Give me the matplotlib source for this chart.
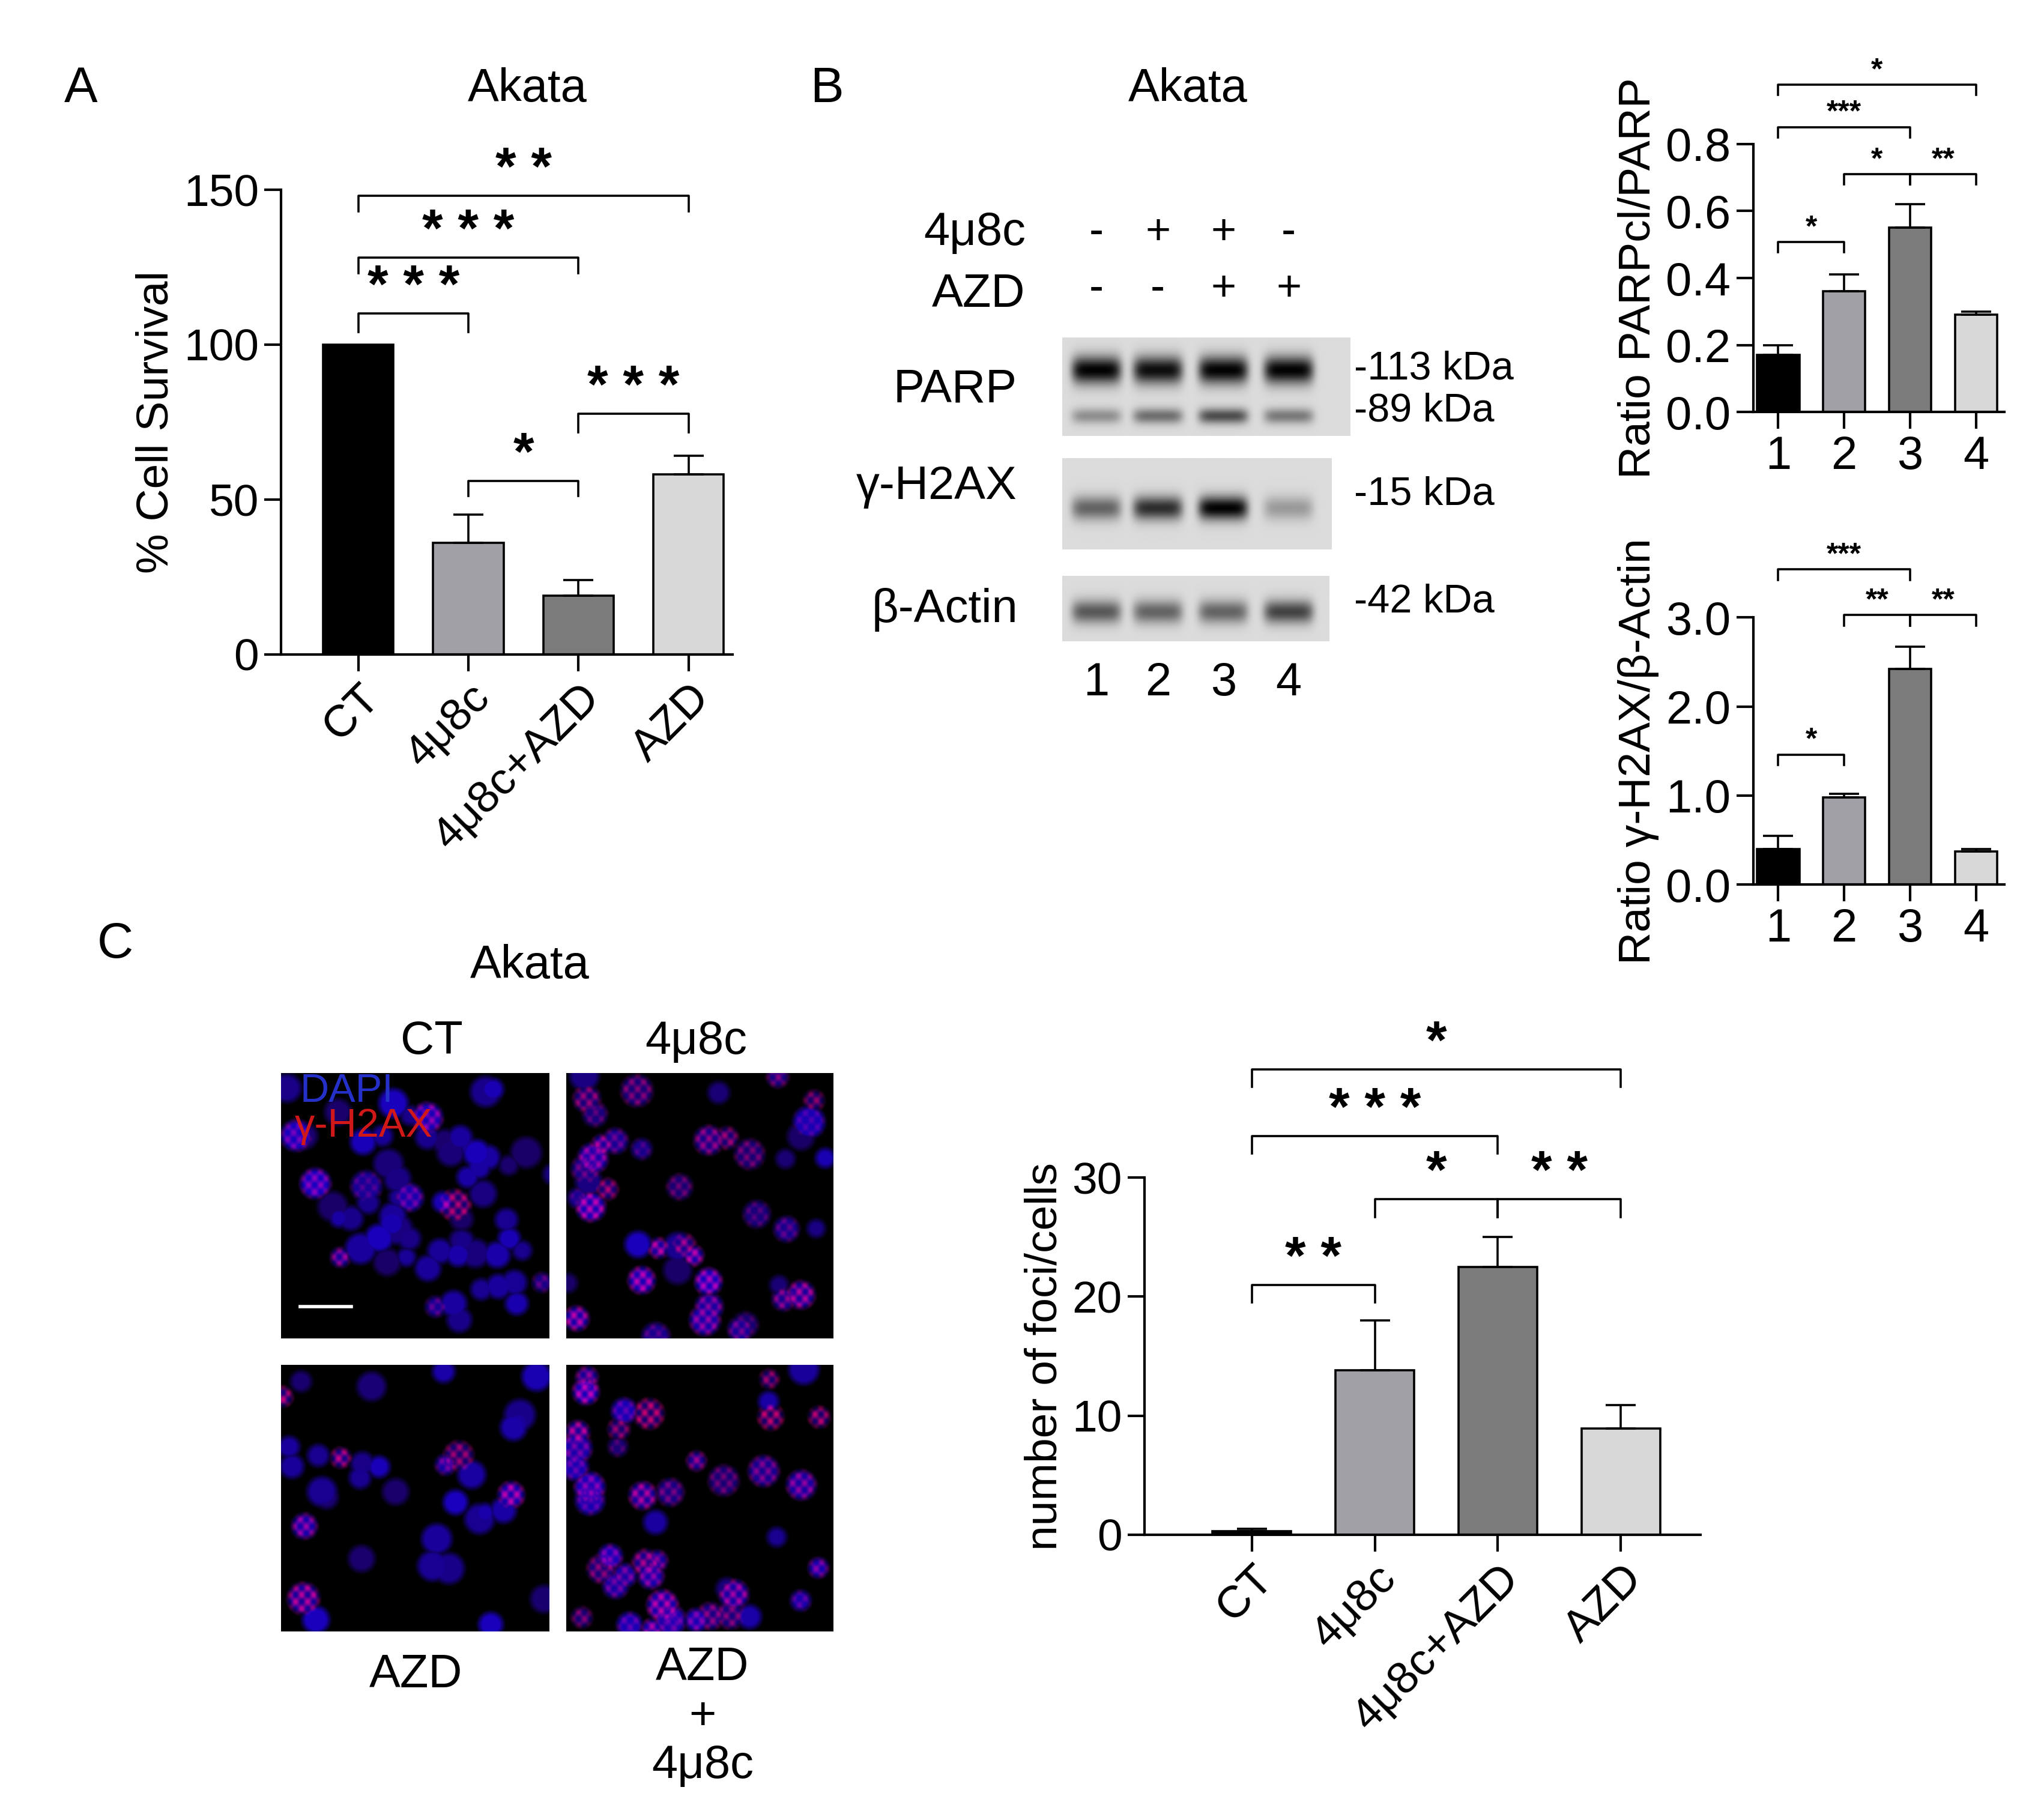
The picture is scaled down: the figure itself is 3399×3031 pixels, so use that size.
import numpy as np
import matplotlib
matplotlib.use("Agg")
import matplotlib.pyplot as plt

plt.rcParams['font.family'] = ['Liberation Sans', 'DejaVu Sans']

W, H = 1560, 1391
COLORS = ["#000000", "#a0a0a6", "#7b7b7b", "#d8d8d8"]

# ---- data ----
groups = ["CT", "4\u03bc8c", "4\u03bc8c+AZD", "AZD"]
survival = [100, 36, 19, 58]
survival_err = [0, 9, 5, 6]

lanes = ["1", "2", "3", "4"]
parp_ratio = [0.17, 0.36, 0.55, 0.29]
parp_err = [0.03, 0.05, 0.07, 0.01]
h2ax_ratio = [0.40, 0.98, 2.42, 0.37]
h2ax_err = [0.15, 0.04, 0.25, 0.03]

foci = [0.3, 13.8, 22.5, 8.9]
foci_err = [0.2, 4.2, 2.5, 2.0]

# blot band intensities
parp_full = [1.0, 0.95, 1.0, 1.0]
parp_cl = [0.35, 0.5, 0.65, 0.45]
h2ax_band = [0.55, 0.8, 1.0, 0.3]
actin_band = [0.6, 0.55, 0.55, 0.7]

fig = plt.figure(figsize=(16.995, 15.155), dpi=200)


def ax_at(x0, y0, x1, y1):
    return fig.add_axes([x0 / W, 1 - y1 / H, (x1 - x0) / W, (y1 - y0) / H])


def ftext(x, y, s, **kw):
    kw.setdefault("ha", "center")
    kw.setdefault("va", "center")
    kw.setdefault("fontsize", 27)
    fig.text(x / W, 1 - y / H, s, **kw)


def bracket(ax, i, j, y, tick, label, fs):
    ax.plot([i, i, j, j], [y - tick, y, y, y - tick], color="black", lw=1.3, clip_on=False)
    ax.text((i + j) / 2, y, label, ha="center", va="bottom", fontsize=fs,
            fontweight="bold", clip_on=False)


def bar_axes(ax, vals, errs, xlim, ylim, ticks, tlabels, ticklabels, rot, fs):
    x = np.arange(len(vals))
    ax.bar(x, vals, width=0.64, color=COLORS, edgecolor="black", lw=1.3)
    for xi, v, e in zip(x, vals, errs):
        if e > 0:
            ax.errorbar(xi, v, yerr=[[0], [e]], color="black", capsize=9, lw=1.3, capthick=1.3)
    ax.set_xlim(*xlim)
    ax.set_ylim(*ylim)
    ax.set_yticks(ticks)
    ax.set_yticklabels(tlabels, fontsize=fs)
    ax.set_xticks(x)
    if rot:
        ax.set_xticklabels(ticklabels, fontsize=fs, rotation=45, ha="right", rotation_mode="anchor")
    else:
        ax.set_xticklabels(ticklabels, fontsize=fs)
    for s in ["top", "right"]:
        ax.spines[s].set_visible(False)
    ax.spines["left"].set_linewidth(1.5)
    ax.spines["bottom"].set_linewidth(1.5)
    ax.tick_params(width=1.5, length=10)


# ---- Panel A ----
axA = ax_at(215, 145, 560, 500)
bar_axes(axA, survival, survival_err, (-0.7, 3.4), (0, 150), [0, 50, 100, 150],
         ["0", "50", "100", "150"], groups, True, 27)
axA.set_ylabel("% Cell Survival", fontsize=27)
bracket(axA, 0, 1, 110, 6, "* * *", 32)
bracket(axA, 0, 2, 128, 5, "* * *", 32)
bracket(axA, 0, 3, 148, 5, "* *", 32)
bracket(axA, 1, 2, 56, 5, "*", 32)
bracket(axA, 2, 3, 77.6, 6, "* * *", 32)
ftext(62, 68, "A", fontsize=30)
ftext(403, 68, "Akata", fontsize=28)

# ---- Panel B blots ----
ftext(632, 68, "B", fontsize=30)
ftext(908, 68, "Akata", fontsize=28)
ftext(745, 178, "4\u03bc8c", fontsize=28)
ftext(748, 225, "AZD", fontsize=28)
lane_x = [838, 885, 935, 985]
for lx, a, b in zip(lane_x, ["-", "+", "+", "-"], ["-", "-", "+", "+"]):
    ftext(lx, 178, a, fontsize=26)
    ftext(lx, 221, b, fontsize=26)


def blot(x0, y0, x1, y1, bands):
    ax = ax_at(x0, y0, x1, y1)
    h, w = 120, 400
    img = np.full((h, w), 0.86)
    xs = np.linspace(x0, x1, w)
    yy = np.linspace(0, 1, h)[:, None]
    for yc, sig, ints in bands:
        for lx, it in zip(lane_x, ints):
            prof = np.exp(-((xs - lx) / 19.0) ** 6)[None, :]
            img -= 0.85 * it * prof * np.exp(-((yy - yc) / sig) ** 2)
    ax.imshow(np.clip(img, 0, 1), cmap="gray", vmin=0, vmax=1, aspect="auto")
    ax.set_xticks([])
    ax.set_yticks([])
    for s in ax.spines.values():
        s.set_visible(False)


blot(812, 258, 1032, 333, [(0.33, 0.14, parp_full), (0.8, 0.08, parp_cl)])
blot(812, 350, 1018, 420, [(0.55, 0.13, h2ax_band)])
blot(812, 440, 1016, 490, [(0.55, 0.18, actin_band)])
ftext(730, 298, "PARP", fontsize=28)
ftext(716, 372, "\u03b3-H2AX", fontsize=28)
ftext(722, 466, "\u03b2-Actin", fontsize=28)
ftext(1035, 282, "-113 kDa", fontsize=24, ha="left")
ftext(1035, 314, "-89 kDa", fontsize=24, ha="left")
ftext(1035, 378, "-15 kDa", fontsize=24, ha="left")
ftext(1035, 460, "-42 kDa", fontsize=24, ha="left")
for lx, l in zip(lane_x, lanes):
    ftext(lx, 522, l, fontsize=28)

# ---- Panel B bar charts ----
axB1 = ax_at(1340, 110, 1532, 315)
bar_axes(axB1, parp_ratio, parp_err, (-0.38, 3.43), (0, 0.8), [0, 0.2, 0.4, 0.6, 0.8],
         ["0.0", "0.2", "0.4", "0.6", "0.8"], lanes, False, 28)
axB1.set_ylabel("Ratio PARPcl/PARP", fontsize=27)
bracket(axB1, 0, 1, 0.507, 0.03, "*", 18)
bracket(axB1, 1, 2, 0.71, 0.03, "*", 18)
bracket(axB1, 2, 3, 0.71, 0.03, "**", 18)
bracket(axB1, 0, 2, 0.85, 0.03, "***", 18)
bracket(axB1, 0, 3, 0.976, 0.03, "*", 18)

axB2 = ax_at(1340, 472, 1532, 676)
bar_axes(axB2, h2ax_ratio, h2ax_err, (-0.38, 3.43), (0, 3.0), [0, 1, 2, 3],
         ["0.0", "1.0", "2.0", "3.0"], lanes, False, 28)
axB2.set_ylabel("Ratio \u03b3-H2AX/\u03b2-Actin", fontsize=27)
bracket(axB2, 0, 1, 1.46, 0.12, "*", 18)
bracket(axB2, 1, 2, 3.03, 0.12, "**", 18)
bracket(axB2, 2, 3, 3.03, 0.12, "**", 18)
bracket(axB2, 0, 2, 3.54, 0.12, "***", 18)

# ---- Panel C images ----
ftext(88, 722, "C", fontsize=30)
ftext(405, 738, "Akata", fontsize=28)
ftext(330, 796, "CT", fontsize=28)
ftext(532, 796, "4\u03bc8c", fontsize=28)
ftext(318, 1280, "AZD", fontsize=28)
ftext(537, 1258, "AZD\n+\n4\u03bc8c", fontsize=28, va="top", linespacing=1.15)
rng = np.random.default_rng(3)


def cells(x0, y0, x1, y1, n, red, cluster):
    ax = ax_at(x0, y0, x1, y1)
    s = 200
    img = np.zeros((s, s, 3))
    yy, xx = np.mgrid[0:s, 0:s]
    for _ in range(n):
        cx, cy = rng.uniform(0, s, 2)
        if cluster and rng.random() < 0.6:
            cx, cy = rng.normal(100, 45, 2)
        r = rng.uniform(9, 14)
        d = np.hypot(xx - cx, yy - cy)
        m = np.clip((r - d) / 5.0, 0, 1)
        b = rng.uniform(0.4, 0.75)
        img[..., 2] = np.maximum(img[..., 2], m * b)
        img[..., 0] = np.maximum(img[..., 0], m * 0.1)
        if rng.random() < red:
            rr = rng.uniform(0.3, 0.8)
            spots = m * np.clip(0.5 + 0.5 * np.sin(xx * 0.7 + cx) * np.sin(yy * 0.6 + cy), 0, 1)
            img[..., 0] = np.maximum(img[..., 0], spots * rr)
    ax.imshow(np.clip(img, 0, 1), aspect="auto")
    ax.set_xticks([])
    ax.set_yticks([])
    for sp in ax.spines.values():
        sp.set_visible(False)
    return ax


a1 = cells(215, 820, 420, 1023, 70, 0.15, True)
a1.text(0.07, 0.89, "DAPI", color="#2530c8", fontsize=24, transform=a1.transAxes)
a1.text(0.05, 0.76, "\u03b3-H2AX", color="#d01818", fontsize=24, transform=a1.transAxes)
a1.plot([0.07, 0.26], [0.12, 0.12], color="white", lw=2, transform=a1.transAxes)
cells(433, 820, 637, 1023, 45, 0.7, False)
cells(215, 1043, 420, 1247, 35, 0.2, False)
cells(433, 1043, 637, 1247, 45, 0.95, False)

# ---- Panel C bars ----
axC = ax_at(875, 900, 1300, 1173)
bar_axes(axC, foci, foci_err, (-0.87, 3.65), (0, 30), [0, 10, 20, 30],
         ["0", "10", "20", "30"], groups, True, 27)
axC.set_ylabel("number of foci/cells", fontsize=27)
bracket(axC, 0, 1, 21, 1.5, "* *", 32)
bracket(axC, 1, 2, 28.2, 1.5, "*", 32)
bracket(axC, 2, 3, 28.2, 1.5, "* *", 32)
bracket(axC, 0, 2, 33.5, 1.5, "* * *", 32)
bracket(axC, 0, 3, 39.1, 1.5, "*", 32)

fig.savefig("out.png", dpi=200, facecolor="white")
